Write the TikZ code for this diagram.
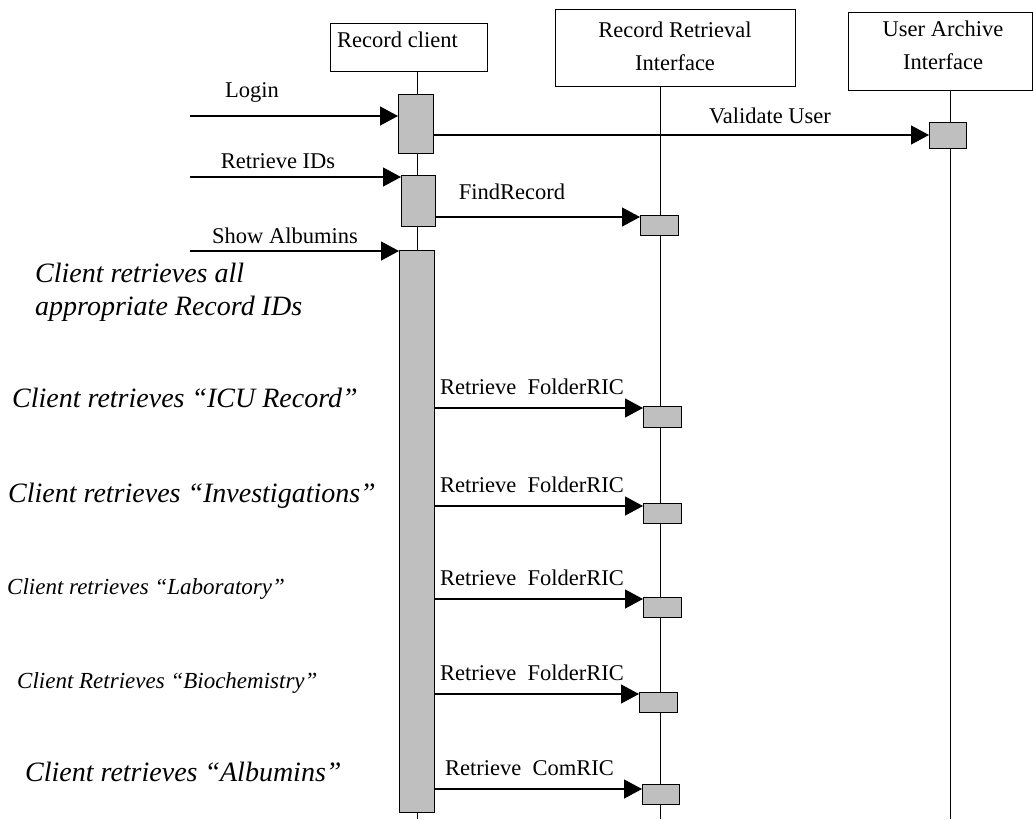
\documentclass[tikz,border=0pt]{standalone}
\usepackage{fontspec}
\setmainfont{Liberation Serif}
\usetikzlibrary{arrows.meta}
\begin{document}
\begin{tikzpicture}[x=1pt,y=-1pt,
  lbl/.style={font=\fontsize{22.5}{33}\selectfont, inner sep=0pt},
  lblw/.style={lbl, anchor=west},
  boxtext/.style={font=\fontsize{22.5}{33}\selectfont, inner sep=0pt, align=center},
  note/.style={font=\fontsize{28}{33}\selectfont\itshape, inner sep=0pt, anchor=west, align=left},
  notesm/.style={font=\fontsize{23}{28}\selectfont\itshape, inner sep=0pt, anchor=west},
  obj/.style={draw, line width=1.2pt, inner sep=0pt, anchor=north west},
  act/.style={draw, line width=1.2pt, fill=black!25, inner sep=0pt, anchor=north west},
  life/.style={line width=1pt},
  msg/.style={line width=1.2pt, -{Triangle[length=18pt,width=19pt]}},
]
\useasboundingbox (0,0) rectangle (1033,819);
\coordinate (bot) at (0,819);

% object boxes
\node[obj, minimum width=157pt, minimum height=48pt] (rc) at (330,23) {};
\node[obj, minimum width=240pt, minimum height=77pt] (rri) at (555,9) {};
\node[obj, minimum width=184pt, minimum height=78pt] (uai) at (848,12) {};
\node[lbl, anchor=west] (rct) at (337,40) {Record client};
\node[boxtext] (rrit) at (675,46) {Record Retrieval\\Interface};
\node[boxtext] (uait) at (943,45) {User Archive\\Interface};

% lifelines
\draw[life] ([xshift=8.5pt]rc.south) -- ([xshift=8.5pt]rc.south |- bot);
\draw[life] ([xshift=-15pt]rri.south) -- ([xshift=-15pt]rri.south |- bot);
\draw[life] ([xshift=10pt]uai.south) -- ([xshift=10pt]uai.south |- bot);

% activation boxes
\node[act, minimum width=35pt, minimum height=59pt] (a1) at (398,94) {};
\node[act, minimum width=34pt, minimum height=51pt] (a2) at (401,175) {};
\node[act, minimum width=35pt, minimum height=562pt] (a3) at (399,250) {};
\node[act, minimum width=37pt, minimum height=26pt] (ua) at (929,122) {};
\node[act, minimum width=38pt, minimum height=20pt] (fr) at (640,215) {};
\node[act, minimum width=38pt, minimum height=21pt] (f1) at (643,406) {};
\node[act, minimum width=38pt, minimum height=20pt] (f2) at (643,503) {};
\node[act, minimum width=38pt, minimum height=20pt] (f3) at (643,597) {};
\node[act, minimum width=38pt, minimum height=20pt] (f4) at (639,692) {};
\node[act, minimum width=37pt, minimum height=20pt] (f5) at (642,784) {};

% incoming messages
\coordinate (s1) at (190,116);
\coordinate (s2) at (190,177);
\coordinate (s3) at (190,251);
\draw[msg] (s1) -- (a1.west |- s1);
\draw[msg] (s2) -- (a2.west |- s2);
\draw[msg] (s3) -- (a3.west |- s3);
\node[lbl] (llogin) at (252,92) {Login};
\node[lbl] (lret) at (278,161) {Retrieve IDs};
\node[lbl] (lshow) at (285,236) {Show Albumins};

% calls
\coordinate (yv) at (0,135);
\coordinate (yf) at (0,217);
\draw[msg] (a1.east |- yv) -- (ua.west |- yv);
\node[lbl] (lval) at (770,116) {Validate User};
\draw[msg] (a2.east |- yf) -- (fr.west |- yf);
\node[lbl] (lfind) at (512,192) {FindRecord};

\coordinate (m1) at (0,408);
\coordinate (m2) at (0,506);
\coordinate (m3) at (0,599);
\coordinate (m4) at (0,694);
\coordinate (m5) at (0,789);
\draw[msg] (a3.east |- m1) -- (f1.west |- m1);
\draw[msg] (a3.east |- m2) -- (f2.west |- m2);
\draw[msg] (a3.east |- m3) -- (f3.west |- m3);
\draw[msg] (a3.east |- m4) -- (f4.west |- m4);
\draw[msg] (a3.east |- m5) -- (f5.west |- m5);
\node[lblw] (lr1) at (440,387) {Retrieve\ \ FolderRIC};
\node[lblw] (lr2) at (440,485) {Retrieve\ \ FolderRIC};
\node[lblw] (lr3) at (440,578) {Retrieve\ \ FolderRIC};
\node[lblw] (lr4) at (440,673) {Retrieve\ \ FolderRIC};
\node[lblw] (lr5) at (445,768) {Retrieve\ \ ComRIC};

% notes
\node[note] (n0) at (35,292) {Client retrieves all\\appropriate Record IDs};
\node[note] (n1) at (12,398) {Client retrieves “ICU Record”};
\node[note] (n2) at (8,496) {Client retrieves “Investigations”};
\node[notesm] (n3) at (7,589) {Client retrieves “Laboratory”};
\node[notesm] (n4) at (17,683) {Client Retrieves “Biochemistry”};
\node[note] (n5) at (25,772) {Client retrieves “Albumins”};
\end{tikzpicture}
\end{document}
